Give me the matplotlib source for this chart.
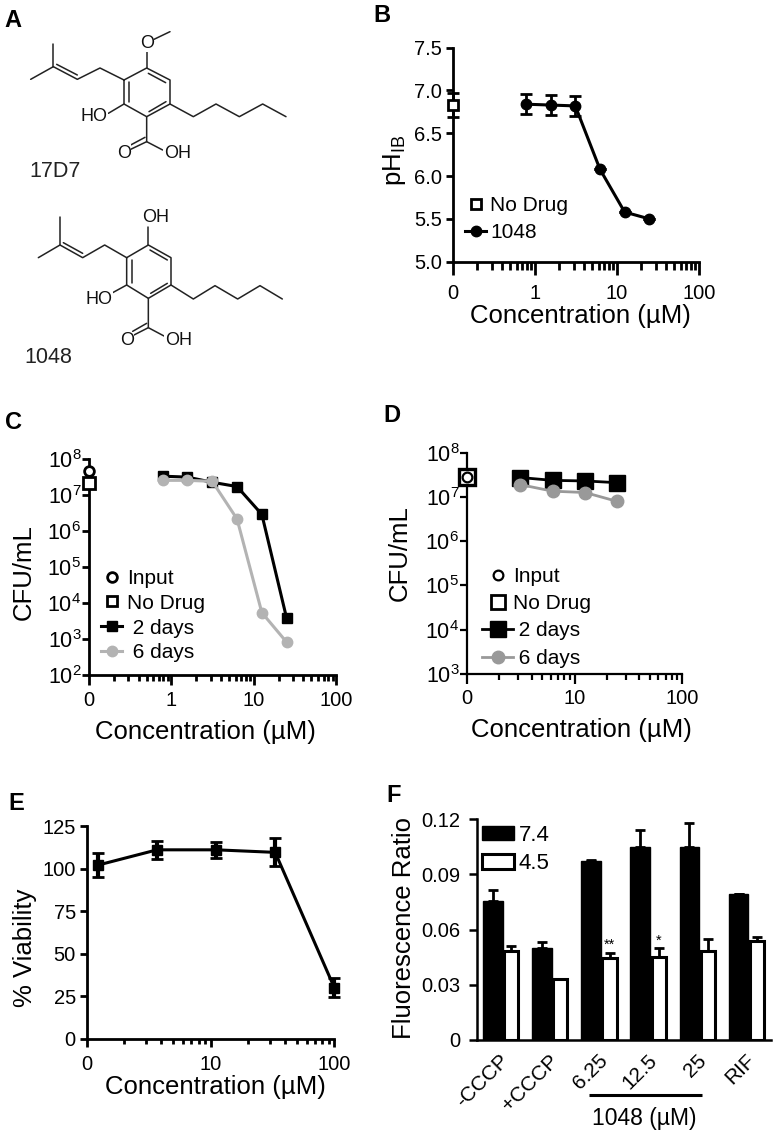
import matplotlib
matplotlib.use("Agg")
import matplotlib.pyplot as plt
from matplotlib.lines import Line2D
from matplotlib.ticker import FixedLocator, NullFormatter

plt.rcParams['font.family'] = ['Liberation Sans', 'DejaVu Sans']
plt.rcParams['mathtext.fontset'] = 'custom'
plt.rcParams['mathtext.rm'] = 'Liberation Sans'
plt.rcParams['mathtext.default'] = 'regular'

W, H = 776, 1138

# panel B
b_conc = [0.78, 1.56, 3.125, 6.25, 12.5, 25]
b_ph = [6.84, 6.83, 6.82, 6.08, 5.58, 5.50]
b_err = [0.12, 0.12, 0.12, 0, 0, 0]
b_nodrug = 6.83
b_nodrug_err = 0.14

# panel C
c_conc = [0.78, 1.56, 3.125, 6.25, 12.5, 25]
c_2d = [3.4e7, 3.2e7, 2.3e7, 1.75e7, 2.95e6, 3.8e3]
c_6d = [2.6e7, 2.6e7, 2.45e7, 2.2e6, 5.5e3, 8.3e2]
c_input = 4.8e7
c_nodrug = 2.2e7

# panel D
d_conc = [3.125, 6.25, 12.5, 25]
d_2d = [2.75e7, 2.37e7, 2.3e7, 2.1e7]
d_6d = [1.9e7, 1.35e7, 1.26e7, 7.9e6]
d_input = 2.8e7
d_nodrug = 2.8e7

# panel E
e_conc = [1.23, 3.7, 11.1, 33.3, 100]
e_viab = [102, 111, 111, 109.5, 30]
e_err = [7.2, 5.3, 4.7, 8.2, 5.7]

# panel F
f_labels = ['-CCCP', '+CCCP', '6.25', '12.5', '25', 'RIF']
f_74 = [0.0757, 0.0499, 0.0973, 0.1049, 0.1047, 0.0791]
f_45 = [0.0485, 0.0330, 0.0447, 0.0452, 0.0481, 0.0536]
f_74_err = [0.0058, 0.0031, 0.0006, 0.0093, 0.0131, 0]
f_45_err = [0.0024, 0, 0.0025, 0.0045, 0.0069, 0.0023]

# structures, in 3x zoom pixels of the panel
mol1_paths = [
    [(92, 238), (160, 200), (232, 238), (300, 204), (372, 240)],
    [(160, 132), (160, 200)],
    [(170, 193), (232, 225)],
    [(372, 240), (440, 204), (510, 240), (510, 312), (440, 350), (372, 312), (372, 240)],
    [(388, 246), (388, 305)],
    [(445, 220), (497, 248)],
    [(447, 335), (498, 305)],
    [(440, 204), (440, 152)],
    [(462, 118), (510, 95)],
    [(372, 312), (325, 340)],
    [(510, 312), (580, 350), (648, 312), (718, 350), (788, 312), (858, 350)],
    [(440, 350), (440, 425), (488, 450)],
    [(440, 425), (392, 448)],
    [(435, 412), (392, 435)],
]
mol1_text = [('O', 440, 130), ('HO', 283, 350), ('O', 372, 460), ('OH', 532, 460)]
mol2_paths = [
    [(115, 773), (180, 735), (248, 773), (314, 735), (380, 773)],
    [(180, 652), (180, 735)],
    [(190, 728), (248, 760)],
    [(380, 773), (445, 735), (513, 773), (513, 855), (445, 895), (380, 855), (380, 773)],
    [(396, 780), (396, 848)],
    [(450, 750), (502, 780)],
    [(452, 880), (502, 850)],
    [(445, 735), (445, 680)],
    [(380, 855), (338, 878)],
    [(513, 855), (580, 897), (645, 857), (713, 897), (780, 857), (847, 897)],
    [(445, 895), (445, 983), (492, 1008)],
    [(445, 983), (398, 1007)],
    [(440, 970), (398, 994)],
]
mol2_text = [('OH', 467, 652), ('HO', 297, 897), ('O', 380, 1022), ('OH', 535, 1022)]

fig = plt.figure(figsize=(W / 100, H / 100), dpi=100)

# page overlay in image pixels, for structures and panel letters
page = fig.add_axes([0, 0, 1, 1], zorder=-1)
page.set_xlim(0, W)
page.set_ylim(H, 0)
page.axis('off')


def axes_px(left, top, right, bottom):
    return fig.add_axes([left / W, 1 - bottom / H, (right - left) / W, (bottom - top) / H])


def style(ax, lw=2.0):
    for s in ['top', 'right']:
        ax.spines[s].set_visible(False)
    for s in ['left', 'bottom']:
        ax.spines[s].set_linewidth(lw)
    ax.patch.set_alpha(0)


def set_labels(ax, xlabel, xpos, ylabel, ypos):
    if xlabel:
        ax.set_xlabel(xlabel, fontsize=18.5, ha='center', va='center')
        ax.xaxis.set_label_coords(xpos[0], xpos[1], transform=page.transData)
    ax.set_ylabel(ylabel, fontsize=18.5, ha='center', va='center')
    ax.yaxis.set_label_coords(ypos[0], ypos[1], transform=page.transData)


def log_xaxis(ax, low, lw, maj, mnr, labels, pad=4):
    ax.set_xscale('log')
    ax.set_xlim(low, 100)
    majors = list(labels.keys())
    ax.xaxis.set_major_locator(FixedLocator(majors))
    ax.set_xticklabels([labels[m] for m in majors], fontsize=14.5)
    minors = []
    d = low
    while d < 100:
        minors += [d * k for k in range(2, 10)]
        d *= 10
    ax.xaxis.set_minor_locator(FixedLocator(minors))
    ax.xaxis.set_minor_formatter(NullFormatter())
    ax.tick_params(axis='x', which='major', length=maj, width=lw, pad=pad)
    ax.tick_params(axis='x', which='minor', length=mnr, width=lw)
    ax.tick_params(axis='y', which='major', length=4.8, width=lw, labelsize=14.5, pad=3)
    ax.tick_params(axis='y', which='minor', length=0)


def unclip(container):
    container[0].set_clip_on(False)
    for cap in container[1]:
        cap.set_clip_on(False)
    for bar in container[2]:
        bar.set_clip_on(False)


def log_yticks(ax, low, high):
    exps = list(range(low, high + 1))
    ax.set_yscale('log')
    ax.set_ylim(10.0 ** low, 10.0 ** high)
    ax.yaxis.set_major_locator(FixedLocator([10.0 ** e for e in exps]))
    ax.set_yticklabels(['$10^{%d}$' % e for e in exps], fontsize=15.5)
    ax.yaxis.set_minor_locator(FixedLocator([]))
    ax.tick_params(axis='y', which='major', length=5, pad=0.5)


# panel A
for paths, texts in [(mol1_paths, mol1_text), (mol2_paths, mol2_text)]:
    for p in paths:
        page.plot([q[0] / 3 for q in p], [q[1] / 3 for q in p], color='#222222', lw=1.1,
                  solid_capstyle='round', solid_joinstyle='round')
    for t, x, y in texts:
        page.text(x / 3, y / 3, t, fontsize=13, ha='center', va='center', color='#111111',
                  bbox=dict(fc='white', ec='none', pad=0.3))
page.text(55, 171, '17D7', fontsize=15.5, ha='center', va='center', color='#222222')
page.text(48, 357, '1048', fontsize=15.5, ha='center', va='center', color='#222222')

for letter, x, y in [('A', 13, 20), ('B', 382, 15), ('C', 13, 422),
                     ('D', 392, 415), ('E', 16, 803), ('F', 394, 795)]:
    page.text(x, y, letter, fontsize=17, fontweight='bold', ha='center', va='center')

# panel B
ax = axes_px(452.7, 47.7, 698.7, 261.7)
style(ax)
log_xaxis(ax, 0.1, 2.0, 9.5, 5.5, {0.1: '0', 1: '1', 10: '10', 100: '100'}, pad=6.5)
ax.set_ylim(5, 7.5)
ax.set_yticks([5, 5.5, 6, 6.5, 7, 7.5])
ax.set_yticklabels(['5.0', '5.5', '6.0', '6.5', '7.0', '7.5'])
eb = ax.errorbar([0.1], [b_nodrug], yerr=[b_nodrug_err], fmt='s', ms=7, mfc='white', mec='k', mew=2,
                 ecolor='k', elinewidth=2, capsize=4.5, capthick=2, zorder=5)
unclip(eb)
eb = ax.errorbar(b_conc, b_ph, yerr=b_err, fmt='o-', color='k', ms=7.5, lw=2.2,
                 elinewidth=2, capsize=4.5, capthick=2, zorder=5)
unclip(eb)
ax.legend([Line2D([], [], marker='s', ms=7, mfc='white', mec='k', mew=2, ls='none'),
           Line2D([], [], marker='o', ms=7.5, color='k', lw=2.2)],
          ['No Drug', '1048'], frameon=False, fontsize=15, loc='lower left',
          bbox_to_anchor=(0.052, 0.093), borderpad=0, borderaxespad=0,
          handlelength=1.0, handletextpad=0.2, labelspacing=0.38)
set_labels(ax, 'Concentration (µM)', (580, 316), r'$pH_{IB}$', (394, 160))

# panel C
ax = axes_px(89, 459.3, 336.3, 675.3)
style(ax)
log_xaxis(ax, 0.1, 2.0, 7, 4, {0.1: '0', 1: '1', 10: '10', 100: '100'})
log_yticks(ax, 2, 8)
ax.plot([0.1], [c_input], 'o', ms=7, mfc='white', mec='k', mew=2, clip_on=False, zorder=5)
ax.plot([0.1], [c_nodrug], 's', ms=8, mfc='white', mec='k', mew=2, clip_on=False, zorder=5)
l2, = ax.plot(c_conc, c_2d, 's-', color='k', ms=7.5, lw=2.2, clip_on=False, zorder=5)
l6, = ax.plot(c_conc, c_6d, 'o-', color='#b3b3b3', ms=7.5, lw=2.2, clip_on=False, zorder=6)
ax.legend([Line2D([], [], marker='o', ms=7, mfc='white', mec='k', mew=2, ls='none'),
           Line2D([], [], marker='s', ms=7, mfc='white', mec='k', mew=2, ls='none'),
           l2, l6],
          ['Input', 'No Drug', ' 2 days', ' 6 days'], frameon=False, fontsize=15, loc='lower left',
          bbox_to_anchor=(0.05, 0.06), borderpad=0, borderaxespad=0,
          handlelength=1.0, handletextpad=0.25, labelspacing=0.28)
set_labels(ax, 'Concentration (µM)', (205, 731.7), 'CFU/mL', (24, 571.7))

# panel D
ax = axes_px(467, 452.7, 682.3, 674)
style(ax, 1.6)
log_xaxis(ax, 1, 1.6, 7, 4, {1: '0', 10: '10', 100: '100'})
log_yticks(ax, 3, 8)
ax.plot([1], [d_nodrug], 's', ms=11, mfc='white', mec='k', mew=2.4, clip_on=False, zorder=5)
ax.plot([1], [d_input], 'o', ms=7, mfc='white', mec='k', mew=1.6, clip_on=False, zorder=6)
l2, = ax.plot(d_conc, d_2d, 's-', color='k', ms=11.5, lw=2.0, clip_on=False, zorder=5)
l6, = ax.plot(d_conc, d_6d, 'o-', color='#999999', ms=9, lw=2.0, clip_on=False, zorder=6)
ax.legend([Line2D([], [], marker='o', ms=7, mfc='white', mec='k', mew=1.6, ls='none'),
           Line2D([], [], marker='s', ms=10, mfc='white', mec='k', mew=2, ls='none'),
           l2, l6],
          ['Input', 'No Drug', ' 2 days', ' 6 days'], frameon=False, fontsize=15, loc='lower left',
          bbox_to_anchor=(0.07, 0.028), borderpad=0, borderaxespad=0,
          handlelength=1.5, handletextpad=0.0, labelspacing=0.4)
set_labels(ax, 'Concentration (µM)', (581.7, 730), 'CFU/mL', (400, 553))

# panel E
ax = axes_px(86.7, 826, 334.3, 1038.7)
style(ax)
log_xaxis(ax, 1, 2.0, 6, 3.5, {1: '0', 10: '10', 100: '100'}, pad=5.5)
ax.set_ylim(0, 125)
ax.set_yticks([0, 25, 50, 75, 100, 125])
eb = ax.errorbar(e_conc, e_viab, yerr=e_err, fmt='s-', color='k', ms=7.5, lw=2.2,
                 elinewidth=3, capsize=4.5, capthick=2, zorder=5)
unclip(eb)
set_labels(ax, 'Concentration (µM)', (215, 1086.7), '% Viability', (25, 948))

# panel F
ax = axes_px(476.7, 819.3, 771, 1039.7)
style(ax, 1.8)
ax.set_xlim(-0.325, 5.66)
ax.set_ylim(0, 0.12)
xs_b = list(range(len(f_labels)))
xs_w = [i + 0.376 for i in xs_b]
b1 = ax.bar(xs_b, f_74, width=0.40, color='k', edgecolor='k', linewidth=1,
            yerr=[[0] * len(f_74), f_74_err], error_kw=dict(ecolor='k', elinewidth=2, capsize=3.8, capthick=2))
b2 = ax.bar(xs_w, f_45, width=0.29, color='white', edgecolor='k', linewidth=2.2,
            yerr=[[0] * len(f_45), f_45_err], error_kw=dict(ecolor='k', elinewidth=2, capsize=3.8, capthick=2))
ax.set_yticks([0, 0.03, 0.06, 0.09, 0.12])
ax.set_yticklabels(['0', '0.03', '0.06', '0.09', '0.12'])
ax.tick_params(axis='y', length=5.5, width=1.8, labelsize=14.5, pad=6)
ax.set_xticks([i + 0.14 for i in xs_b])
ax.set_xticklabels(f_labels, rotation=45, ha='right', rotation_mode='anchor', fontsize=15)
ax.tick_params(axis='x', length=0, pad=8)
ax.text(xs_w[2], f_45[2] + f_45_err[2] + 0.0005, '**', fontsize=10.5, ha='center', va='bottom')
ax.text(xs_w[3], f_45[3] + f_45_err[3] + 0.0003, '*', fontsize=10.5, ha='center', va='bottom')
ax.legend([b1, b2], ['7.4', '4.5'], frameon=False, fontsize=16, loc='upper left',
          bbox_to_anchor=(0.018, 0.975), borderpad=0, borderaxespad=0,
          handlelength=1.45, handleheight=0.65, handletextpad=0.2, labelspacing=0.33)
set_labels(ax, None, None, 'Fluorescence Ratio', (404, 928))

# bracket under the 1048 doses
page.plot([589, 702], [1094.7, 1094.7], color='k', lw=2.2, solid_capstyle='butt')
page.text(644, 1119, '1048 (µM)', fontsize=16.5, ha='center', va='center')

fig.savefig('out.png', dpi=100)
